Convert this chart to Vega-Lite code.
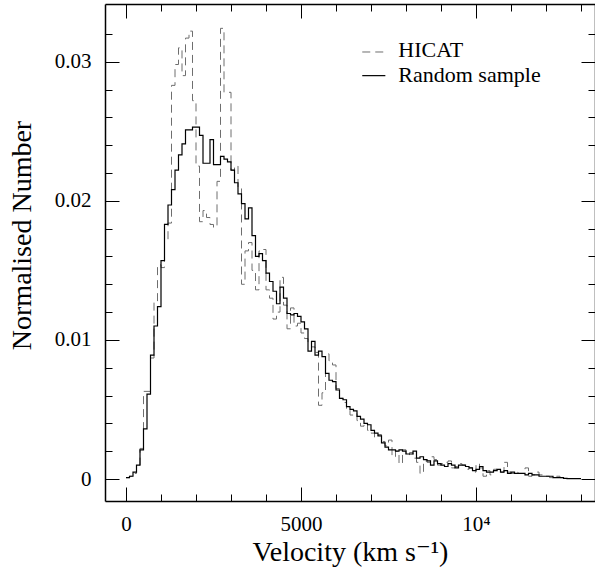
{
  "$schema": "https://vega.github.io/schema/vega-lite/v6.json",
  "width": 490,
  "height": 497,
  "autosize": {"type": "none"},
  "padding": {"left": 105, "top": 4, "right": 0, "bottom": 78},
  "background": "white",
  "config": {"view": {"stroke": null}, "font": "Liberation Serif, DejaVu Serif, serif"},
  "datasets": {
    "rand": [
      {"v":0,"n":0.0001},{"v":100,"n":0.0002},{"v":200,"n":0.0005},{"v":300,"n":0.0010},{"v":400,"n":0.0021},
      {"v":500,"n":0.0036},{"v":600,"n":0.0061},{"v":700,"n":0.0089},{"v":800,"n":0.0110},{"v":900,"n":0.0124},
      {"v":1000,"n":0.0157},{"v":1100,"n":0.0183},{"v":1200,"n":0.0197},{"v":1300,"n":0.0208},{"v":1400,"n":0.0222},
      {"v":1500,"n":0.0233},{"v":1600,"n":0.0241},{"v":1700,"n":0.0251},{"v":1800,"n":0.0251},{"v":1900,"n":0.0253},
      {"v":2000,"n":0.0253},{"v":2100,"n":0.0247},{"v":2200,"n":0.0227},{"v":2300,"n":0.0227},{"v":2400,"n":0.0244},
      {"v":2500,"n":0.0226},{"v":2600,"n":0.0226},{"v":2700,"n":0.0232},{"v":2800,"n":0.0230},{"v":2900,"n":0.0228},
      {"v":3000,"n":0.0222},{"v":3100,"n":0.0213},{"v":3200,"n":0.0205},{"v":3300,"n":0.0198},{"v":3400,"n":0.0187},
      {"v":3500,"n":0.0195},{"v":3600,"n":0.0175},{"v":3700,"n":0.0160},{"v":3800,"n":0.0162},{"v":3900,"n":0.0157},
      {"v":4000,"n":0.0148},{"v":4100,"n":0.0142},{"v":4200,"n":0.0135},{"v":4300,"n":0.0126},{"v":4400,"n":0.0138},
      {"v":4500,"n":0.0130},{"v":4600,"n":0.0119},{"v":4700,"n":0.0118},{"v":4800,"n":0.0119},{"v":4900,"n":0.0117},
      {"v":5000,"n":0.0113},{"v":5100,"n":0.0108},{"v":5200,"n":0.0092},{"v":5300,"n":0.0099},{"v":5400,"n":0.0089},
      {"v":5500,"n":0.0092},{"v":5600,"n":0.0088},{"v":5700,"n":0.0076},{"v":5800,"n":0.0071},{"v":5900,"n":0.0070},
      {"v":6000,"n":0.0064},{"v":6100,"n":0.0058},{"v":6200,"n":0.0057},{"v":6300,"n":0.0052},{"v":6400,"n":0.0050},
      {"v":6500,"n":0.0049},{"v":6600,"n":0.0045},{"v":6700,"n":0.0043},{"v":6800,"n":0.0040},{"v":6900,"n":0.0039},
      {"v":7000,"n":0.0035},{"v":7100,"n":0.0033},{"v":7200,"n":0.0031},{"v":7300,"n":0.0026},{"v":7400,"n":0.0023},
      {"v":7500,"n":0.0021},{"v":7600,"n":0.0021},{"v":7700,"n":0.0020},{"v":7800,"n":0.0021},{"v":7900,"n":0.0020},
      {"v":8000,"n":0.0018},{"v":8100,"n":0.0018},{"v":8200,"n":0.0020},{"v":8300,"n":0.0015},{"v":8400,"n":0.0016},
      {"v":8500,"n":0.0014},{"v":8600,"n":0.0013},{"v":8700,"n":0.0010},{"v":8800,"n":0.0013},{"v":8900,"n":0.0011},
      {"v":9000,"n":0.0010},{"v":9100,"n":0.0009},{"v":9200,"n":0.0011},{"v":9300,"n":0.0010},{"v":9400,"n":0.0008},
      {"v":9500,"n":0.0010},{"v":9600,"n":0.0010},{"v":9700,"n":0.0009},{"v":9800,"n":0.0008},{"v":9900,"n":0.0006},
      {"v":10000,"n":0.0007},{"v":10100,"n":0.0009},{"v":10200,"n":0.0006},{"v":10300,"n":0.0005},{"v":10400,"n":0.0005},
      {"v":10500,"n":0.0006},{"v":10600,"n":0.0007},{"v":10700,"n":0.0005},{"v":10800,"n":0.0006},{"v":10900,"n":0.0004},
      {"v":11000,"n":0.0005},{"v":11100,"n":0.0004},{"v":11200,"n":0.0004},{"v":11300,"n":0.0004},{"v":11400,"n":0.0003},
      {"v":11500,"n":0.0004},{"v":11600,"n":0.0003},{"v":11700,"n":0.0003},{"v":11800,"n":0.0002},{"v":11900,"n":0.0002},
      {"v":12000,"n":0.0002},{"v":12100,"n":0.0002},{"v":12200,"n":0.0001},{"v":12300,"n":0.0001},{"v":12400,"n":0.0001},
      {"v":12500,"n":0.00005},{"v":12600,"n":0.00003},{"v":12700,"n":0.00003},{"v":12800,"n":0.00003},{"v":12900,"n":0.00003},
      {"v":13000,"n":0.00003}
    ],
    "hicat": [
      {"v":0,"n":0.0001},{"v":100,"n":0.0002},{"v":200,"n":0.0004},{"v":300,"n":0.0010},{"v":400,"n":0.0022},
      {"v":500,"n":0.0063},{"v":600,"n":0.0063},{"v":700,"n":0.0087},{"v":800,"n":0.0127},{"v":900,"n":0.0154},
      {"v":1000,"n":0.0152},{"v":1100,"n":0.0172},{"v":1200,"n":0.0184},{"v":1300,"n":0.0283},{"v":1400,"n":0.0298},
      {"v":1500,"n":0.0310},{"v":1600,"n":0.0290},{"v":1700,"n":0.0317},{"v":1800,"n":0.0322},{"v":1900,"n":0.0272},
      {"v":2000,"n":0.0225},{"v":2100,"n":0.0185},{"v":2200,"n":0.0193},{"v":2300,"n":0.0188},{"v":2400,"n":0.0183},
      {"v":2500,"n":0.0181},{"v":2600,"n":0.0214},{"v":2700,"n":0.0324},{"v":2800,"n":0.0278},{"v":2900,"n":0.0278},
      {"v":3000,"n":0.0222},{"v":3100,"n":0.0225},{"v":3200,"n":0.0210},{"v":3300,"n":0.0140},{"v":3400,"n":0.0164},
      {"v":3500,"n":0.0170},{"v":3600,"n":0.0150},{"v":3700,"n":0.0136},{"v":3800,"n":0.0164},{"v":3900,"n":0.0165},
      {"v":4000,"n":0.0136},{"v":4100,"n":0.0130},{"v":4200,"n":0.0115},{"v":4300,"n":0.0120},{"v":4400,"n":0.0145},
      {"v":4500,"n":0.0125},{"v":4600,"n":0.0108},{"v":4700,"n":0.0123},{"v":4800,"n":0.0110},{"v":4900,"n":0.0112},
      {"v":5000,"n":0.0105},{"v":5100,"n":0.0101},{"v":5200,"n":0.0097},{"v":5300,"n":0.0095},{"v":5400,"n":0.0091},
      {"v":5500,"n":0.0053},{"v":5600,"n":0.0062},{"v":5700,"n":0.0090},{"v":5800,"n":0.0085},{"v":5900,"n":0.0082},
      {"v":6000,"n":0.0065},{"v":6100,"n":0.0058},{"v":6200,"n":0.0055},{"v":6300,"n":0.0050},{"v":6400,"n":0.0046},
      {"v":6500,"n":0.0047},{"v":6600,"n":0.0042},{"v":6700,"n":0.0038},{"v":6800,"n":0.0040},{"v":6900,"n":0.0035},
      {"v":7000,"n":0.0033},{"v":7100,"n":0.0030},{"v":7200,"n":0.0032},{"v":7300,"n":0.0027},{"v":7400,"n":0.0024},
      {"v":7500,"n":0.0028},{"v":7600,"n":0.0016},{"v":7700,"n":0.0020},{"v":7800,"n":0.0011},{"v":7900,"n":0.0021},
      {"v":8000,"n":0.0017},{"v":8100,"n":0.0019},{"v":8200,"n":0.0015},{"v":8300,"n":0.0012},{"v":8400,"n":0.0004},
      {"v":8500,"n":0.0013},{"v":8600,"n":0.0012},{"v":8700,"n":0.0016},{"v":8800,"n":0.0014},{"v":8900,"n":0.0010},
      {"v":9000,"n":0.0011},{"v":9100,"n":0.0012},{"v":9200,"n":0.0013},{"v":9300,"n":0.0008},{"v":9400,"n":0.0009},
      {"v":9500,"n":0.0011},{"v":9600,"n":0.0010},{"v":9700,"n":0.0007},{"v":9800,"n":0.0008},{"v":9900,"n":0.0005},
      {"v":10000,"n":0.0011},{"v":10100,"n":0.0008},{"v":10200,"n":0.0002},{"v":10300,"n":0.0006},{"v":10400,"n":0.0003},
      {"v":10500,"n":0.0007},{"v":10600,"n":0.0006},{"v":10700,"n":0.0005},{"v":10800,"n":0.0012},{"v":10900,"n":0.0005},
      {"v":11000,"n":0.0004},{"v":11100,"n":0.0005},{"v":11200,"n":0.0004},{"v":11300,"n":0.0004},{"v":11400,"n":0.0008},
      {"v":11500,"n":0.0002},{"v":11600,"n":0.0003},{"v":11700,"n":0.0005},{"v":11800,"n":0.0003},{"v":11900,"n":0.0002},
      {"v":12000,"n":0.0002},{"v":12100,"n":0.0001},{"v":12200,"n":0.0001},{"v":12300,"n":0.0002},{"v":12400,"n":0.0001},
      {"v":12500,"n":0.0001}
    ],
    "legend": [
      {"s":"HICAT","x":6750,"x2":7410,"y":0.0307,"tx":7780,"ty":0.03085},
      {"s":"Random sample","x":6750,"x2":7410,"y":0.0290,"tx":7780,"ty":0.02905}
    ]
  },
  "resolve": {"axis": {"x": "independent", "y": "independent"}},
  "layer": [
    {
      "data": {"name": "hicat"},
      "mark": {"type": "line", "interpolate": "step-after", "stroke": "#6e6e6e", "strokeWidth": 1, "strokeDash": [8, 5]},
      "encoding": {
        "x": {"field": "v", "type": "quantitative",
          "scale": {"domain": [-600, 13400], "nice": false, "zero": false},
          "axis": {"orient": "bottom", "values": [0,1000,2000,3000,4000,5000,6000,7000,8000,9000,10000,11000,12000,13000],
            "labelExpr": "datum.value == 0 ? '0' : datum.value == 5000 ? '5000' : datum.value == 10000 ? '10⁴' : ''",
            "tickSize": {"condition": {"test": "datum.value % 5000 == 0", "value": -14}, "value": -7},
            "tickColor": "black", "tickWidth": 1, "domainColor": "black", "domainWidth": 1.5,
            "labelFont": "Liberation Serif, DejaVu Serif, serif", "labelFontSize": 21, "labelColor": "black", "labelPadding": 26,
            "labelOverlap": false, "labelFlush": false, "grid": false,
            "title": "Velocity (km s⁻¹)", "titleFont": "Liberation Serif, DejaVu Serif, serif", "titleFontSize": 28, "titleFontWeight": "normal",
            "titleColor": "black", "titlePadding": -3}},
        "y": {"field": "n", "type": "quantitative",
          "scale": {"domain": [-0.00158, 0.03415], "nice": false, "zero": false},
          "axis": {"orient": "left", "values": [0,0.002,0.004,0.006,0.008,0.01,0.012,0.014,0.016,0.018,0.02,0.022,0.024,0.026,0.028,0.03,0.032],
            "labelExpr": "abs(datum.value*100 - round(datum.value*100)) < 0.001 ? (datum.value == 0 ? '0' : format(datum.value, '.2f')) : ''",
            "tickSize": {"condition": {"test": "abs(datum.value*100 - round(datum.value*100)) < 0.001", "value": -14}, "value": -7},
            "tickColor": "black", "tickWidth": 1, "domainColor": "black", "domainWidth": 1.5,
            "labelFont": "Liberation Serif, DejaVu Serif, serif", "labelFontSize": 21, "labelColor": "black", "labelPadding": 28,
            "labelOverlap": false, "labelFlush": false, "grid": false,
            "title": "Normalised Number", "titleFont": "Liberation Serif, DejaVu Serif, serif", "titleFontSize": 28, "titleFontWeight": "normal",
            "titleColor": "black", "titleX": -83, "titleY": 231, "titleBaseline": "middle", "titleAngle": -90, "titleAlign": "center"}}
      }
    },
    {
      "data": {"name": "rand"},
      "mark": {"type": "line", "interpolate": "step-after", "stroke": "black", "strokeWidth": 1.2},
      "encoding": {
        "x": {"field": "v", "type": "quantitative",
          "axis": {"orient": "top", "values": [0,1000,2000,3000,4000,5000,6000,7000,8000,9000,10000,11000,12000,13000],
            "labels": false, "title": null, "grid": false,
            "tickSize": {"condition": {"test": "datum.value % 5000 == 0", "value": -14}, "value": -7},
            "tickColor": "black", "tickWidth": 1, "domainColor": "black", "domainWidth": 1.5}},
        "y": {"field": "n", "type": "quantitative",
          "axis": {"orient": "right", "values": [0,0.002,0.004,0.006,0.008,0.01,0.012,0.014,0.016,0.018,0.02,0.022,0.024,0.026,0.028,0.03,0.032],
            "labels": false, "title": null, "grid": false,
            "tickSize": {"condition": {"test": "abs(datum.value*100 - round(datum.value*100)) < 0.001", "value": -14}, "value": -7},
            "tickColor": "black", "tickWidth": 1, "domainColor": "black", "domainWidth": 1.5}}
      }
    },
    {
      "data": {"name": "legend"},
      "transform": [{"filter": "datum.s == 'HICAT'"}],
      "mark": {"type": "rule", "stroke": "#6e6e6e", "strokeWidth": 1, "strokeDash": [8, 5]},
      "encoding": {
        "x": {"field": "x", "type": "quantitative", "axis": null},
        "x2": {"field": "x2"},
        "y": {"field": "y", "type": "quantitative", "axis": null}
      }
    },
    {
      "data": {"name": "legend"},
      "transform": [{"filter": "datum.s != 'HICAT'"}],
      "mark": {"type": "rule", "stroke": "black", "strokeWidth": 1.2},
      "encoding": {
        "x": {"field": "x", "type": "quantitative", "axis": null},
        "x2": {"field": "x2"},
        "y": {"field": "y", "type": "quantitative", "axis": null}
      }
    },
    {
      "data": {"name": "legend"},
      "mark": {"type": "text", "align": "left", "baseline": "middle", "font": "Liberation Serif, DejaVu Serif, serif", "fontSize": 22, "color": "black"},
      "encoding": {
        "x": {"field": "tx", "type": "quantitative", "axis": null},
        "y": {"field": "ty", "type": "quantitative", "axis": null},
        "text": {"field": "s"}
      }
    }
  ]
}
